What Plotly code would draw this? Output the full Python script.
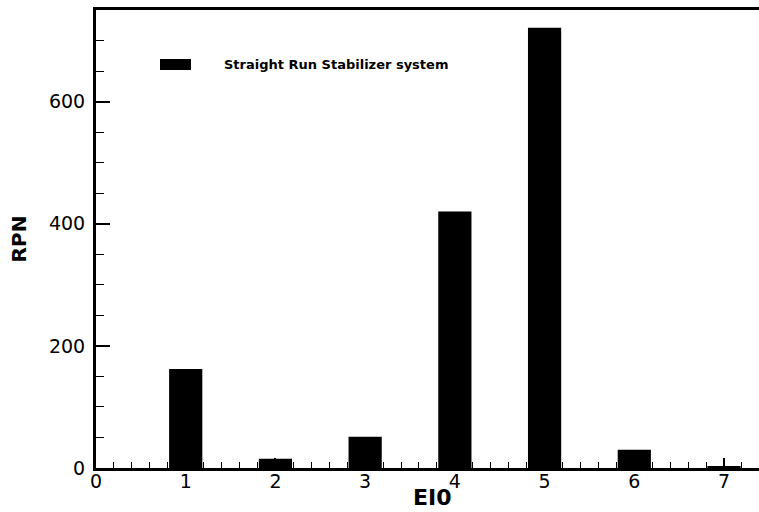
import plotly.graph_objects as go

categories = [1, 2, 3, 4, 5, 6, 7]
rpn_values = [162, 15, 51, 420, 721, 30, 3]
series_name = "Straight Run Stabilizer system"
x_title = "EI0"
y_title = "RPN"
x_tickvals = [0, 1, 2, 3, 4, 5, 6, 7]
y_tickvals = [0, 200, 400, 600]

fig = go.Figure()
fig.add_trace(go.Bar(
    x=categories, y=rpn_values, width=0.37,
    marker=dict(color="black", line=dict(width=0)),
    name=series_name, showlegend=False,
))

font_family = "DejaVu Sans, Liberation Sans, sans-serif"

fig.update_layout(
    width=759, height=512,
    margin=dict(l=96, r=0, t=10, b=44),
    paper_bgcolor="white", plot_bgcolor="white",
    font=dict(family=font_family, color="black"),
    xaxis=dict(
        range=[0, 7.39], tickvals=x_tickvals, ticktext=[str(v) for v in x_tickvals],
        ticks="inside", ticklen=10, tickwidth=1.5, tickcolor="black",
        minor=dict(dtick=0.2, ticks="inside", ticklen=6, tickwidth=1, tickcolor="black"),
        showline=True, linewidth=3, linecolor="black", mirror=True,
        showgrid=False, zeroline=False, automargin=False,
        tickfont=dict(size=19), ticklabelstandoff=-6,
    ),
    yaxis=dict(
        range=[0, 750], tickvals=y_tickvals,
        ticks="inside", ticklen=14, tickwidth=2, tickcolor="black",
        minor=dict(dtick=50, ticks="inside", ticklen=8, tickwidth=1, tickcolor="black"),
        showline=True, linewidth=3, linecolor="black",
        showgrid=False, zeroline=False, automargin=False,
        tickfont=dict(size=19), ticklabelstandoff=4,
        title=dict(text="<b>" + y_title + "</b>", font=dict(size=20), standoff=17),
    ),
)

# x-axis title placed precisely, kept inside the page
fig.add_annotation(xref="paper", yref="paper",
                   x=(432 - 96) / 663, y=(468 - 511) / 458,
                   text="<b>" + x_title + "</b>", showarrow=False,
                   xanchor="center", yanchor="bottom", borderpad=0,
                   font=dict(size=22, family=font_family, color="black"))

# legend drawn manually to match the reference look
fig.add_shape(type="rect", xref="paper", yref="paper",
              x0=(160 - 96) / 663, x1=(191 - 96) / 663,
              y0=(468 - 70) / 458, y1=(468 - 59) / 458,
              fillcolor="black", line=dict(width=0))
fig.add_annotation(xref="paper", yref="paper",
                   x=(222 - 96) / 663, y=(468 - 64.5) / 458,
                   text="<b>" + series_name + "</b>", showarrow=False,
                   xanchor="left", yanchor="middle",
                   font=dict(size=13, family=font_family, color="black"))

fig.write_html("out.html")
